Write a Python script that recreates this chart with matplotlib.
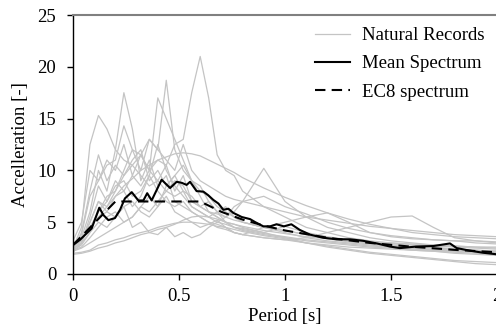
import numpy as np
import matplotlib
matplotlib.use("Agg")
import matplotlib.pyplot as plt

# periods shared by the natural records, s
T = [0, 0.04, 0.08, 0.12, 0.16, 0.2, 0.24, 0.28, 0.32, 0.36, 0.4, 0.44, 0.48,
     0.52, 0.56, 0.6, 0.64, 0.68, 0.72, 0.76, 0.8, 0.9, 1.0, 1.1, 1.2, 1.3,
     1.4, 1.5, 1.6, 1.7, 1.8, 1.9, 2.0]

# natural records (spectral acceleration)
rec1 = [2.8, 3.5, 4.5, 5.5, 6.0, 7.5, 8.0, 9.5, 8.5, 10.0, 11.0, 10.5, 12.5,
        13.0, 17.5, 21.0, 17.0, 11.5, 10.0, 9.5, 8.0, 6.5, 5.5, 4.5, 4.0, 3.5,
        3.2, 3.0, 2.8, 2.6, 2.4, 2.3, 2.2]
rec2 = [2.5, 4.5, 12.5, 15.3, 14.0, 12.0, 11.0, 10.5, 9.5, 8.5, 9.0, 8.0, 7.5,
        8.0, 6.5, 6.0, 5.5, 5.0, 4.8, 4.5, 4.2, 3.8, 3.5, 3.2, 3.0, 2.8,
        2.6, 2.5, 2.3, 2.2, 2.0, 1.9, 1.8]
rec3 = [3.0, 3.5, 6.0, 10.0, 8.0, 12.0, 17.5, 14.0, 9.0, 11.0, 8.5, 9.5, 7.0,
        6.5, 6.0, 5.5, 5.0, 4.8, 4.5, 4.0, 3.8, 3.5, 3.3, 3.0, 2.8, 2.6,
        2.5, 2.4, 2.3, 2.2, 2.1, 2.0, 1.9]
rec4 = [2.6, 3.2, 5.0, 7.0, 6.5, 8.0, 10.0, 12.0, 10.0, 13.0, 12.0, 18.7, 12.0,
        10.0, 9.0, 8.5, 7.0, 6.0, 6.5, 5.5, 5.0, 4.5, 4.0, 3.5, 3.2, 3.0,
        2.8, 2.6, 2.4, 2.3, 2.2, 2.1, 2.0]
rec5 = [2.7, 3.8, 7.5, 9.0, 10.5, 11.0, 14.3, 12.0, 11.5, 10.0, 17.0, 15.0, 13.0,
        11.0, 9.0, 8.0, 7.5, 6.5, 6.0, 5.5, 5.0, 4.5, 4.2, 3.8, 3.4, 3.1,
        2.9, 2.7, 2.5, 2.3, 2.2, 2.1, 2.0]
rec6 = [2.9, 3.5, 4.5, 5.5, 6.5, 7.5, 8.5, 9.2, 10.0, 10.5, 11.0, 11.3, 11.6,
        11.7, 11.6, 11.4, 11.0, 10.6, 10.2, 9.8, 9.3, 8.3, 7.4, 6.6, 5.9, 5.3,
        4.8, 4.4, 4.0, 3.8, 3.6, 3.5, 3.4]
rec7 = [2.2, 2.5, 3.0, 3.5, 4.0, 4.5, 5.0, 5.5, 6.5, 6.0, 7.0, 8.0, 9.0,
        8.5, 7.0, 6.5, 7.0, 6.0, 5.5, 6.0, 7.0, 10.2, 7.0, 5.5, 4.5, 4.0,
        3.5, 3.2, 3.0, 2.8, 2.7, 2.6, 2.5]
rec8 = [2.4, 3.0, 4.0, 6.0, 7.0, 8.5, 9.0, 7.5, 8.0, 9.5, 8.0, 7.0, 6.5,
        7.0, 6.0, 5.5, 5.0, 4.5, 4.3, 4.0, 3.8, 3.5, 3.3, 3.5, 4.0, 4.5,
        5.0, 5.5, 5.6, 4.5, 3.5, 3.2, 3.0]
rec9 = [2.3, 2.8, 4.0, 5.0, 4.5, 5.5, 6.5, 7.0, 6.0, 5.5, 6.5, 7.5, 6.0,
        5.5, 5.0, 4.5, 4.8, 5.2, 4.5, 4.0, 3.8, 4.5, 5.0, 5.5, 5.9, 5.0,
        4.0, 3.6, 3.4, 3.3, 3.2, 3.2, 3.1]
rec10 = [2.0, 2.1, 2.3, 2.8, 3.0, 3.3, 3.5, 3.8, 4.0, 4.2, 4.5, 4.7, 4.9,
         5.0, 5.0, 4.9, 4.8, 4.6, 4.5, 4.3, 4.1, 3.7, 3.4, 3.0, 2.7, 2.4,
         2.1, 1.9, 1.7, 1.5, 1.3, 1.2, 1.1]
rec11 = [1.9, 2.0, 2.2, 2.5, 2.7, 3.0, 3.2, 3.5, 3.8, 4.0, 4.3, 4.5, 4.8,
         5.2, 5.5, 5.6, 5.5, 5.3, 5.0, 4.8, 4.5, 4.0, 3.5, 3.0, 2.6, 2.3,
         2.0, 1.8, 1.6, 1.4, 1.2, 1.0, 0.9]
rec12 = [3.2, 5.0, 10.0, 9.0, 11.0, 10.0, 12.5, 9.5, 11.5, 10.0, 9.0, 10.5, 8.0,
         9.5, 7.0, 6.5, 6.0, 5.5, 5.0, 4.5, 4.3, 3.9, 3.6, 3.3, 3.1, 2.9,
         2.7, 2.6, 2.5, 2.4, 2.3, 2.2, 2.1]
rec13 = [2.5, 3.0, 5.0, 7.0, 6.0, 5.5, 6.5, 4.5, 5.0, 4.0, 3.8, 4.5, 3.6,
         4.0, 3.5, 3.8, 4.5, 5.0, 5.5, 6.5, 7.0, 7.5, 6.5, 5.8, 5.0, 4.4,
         4.0, 3.7, 3.5, 3.3, 3.2, 3.0, 2.9]
rec14 = [2.6, 3.2, 4.5, 6.0, 7.5, 8.0, 9.5, 10.5, 11.5, 13.0, 12.0, 11.0, 10.0,
         12.5, 10.0, 9.0, 8.5, 8.0, 7.5, 7.2, 7.0, 6.5, 6.0, 5.5, 5.2, 4.9,
         4.6, 4.4, 4.2, 4.0, 3.8, 3.7, 3.6]
rec15 = [2.4, 4.0, 8.0, 11.5, 9.0, 10.5, 9.5, 11.0, 12.0, 9.0, 10.0, 8.5, 9.5,
         8.0, 7.5, 6.5, 6.0, 5.8, 5.5, 5.2, 5.0, 4.5, 4.2, 3.8, 3.5, 3.2,
         3.0, 2.9, 2.8, 2.7, 2.6, 2.5, 2.4]
rec16 = [2.1, 3.0, 5.5, 8.5, 7.0, 9.0, 8.0, 6.5, 7.5, 9.5, 12.5, 10.0, 8.5,
         7.5, 6.5, 6.0, 5.5, 6.0, 5.0, 4.5, 4.4, 4.0, 4.6, 4.0, 3.6, 3.3,
         3.0, 2.8, 2.6, 2.5, 2.4, 2.3, 2.2]
rec17 = [2.3, 2.6, 3.5, 4.5, 5.5, 6.0, 5.0, 5.5, 6.5, 7.5, 6.5, 8.5, 9.5,
         10.5, 9.0, 7.5, 6.0, 5.5, 5.0, 4.8, 4.6, 4.2, 3.9, 3.6, 3.4, 3.2,
         3.1, 3.0, 2.9, 2.8, 2.7, 2.6, 2.6]
records = [rec1, rec2, rec3, rec4, rec5, rec6, rec7, rec8, rec9, rec10,
           rec11, rec12, rec13, rec14, rec15, rec16, rec17]

# mean spectrum
mean_T = [0, 0.033, 0.088, 0.124, 0.143, 0.167, 0.198, 0.222, 0.245, 0.277,
          0.308, 0.332, 0.35, 0.371, 0.418, 0.458, 0.489, 0.513, 0.536, 0.552,
          0.583, 0.615, 0.638, 0.662, 0.686, 0.709, 0.733, 0.756, 0.796, 0.835,
          0.86, 0.898, 0.93, 0.96, 0.995, 1.03, 1.07, 1.118, 1.18, 1.244,
          1.307, 1.37, 1.433, 1.495, 1.542, 1.62, 1.7, 1.778, 1.81, 1.873,
          1.935, 2.0]
mean_A = [2.8, 3.3, 4.4, 6.4, 5.7, 5.2, 5.4, 6.2, 7.3, 7.9,
          7.1, 7.1, 7.8, 7.1, 9.1, 8.3, 8.9, 8.8, 8.6, 8.9,
          8.0, 7.95, 7.6, 7.15, 6.8, 6.2, 6.3, 5.9, 5.5, 5.3,
          5.0, 4.6, 4.6, 4.8, 4.6, 4.8, 4.25, 3.8, 3.5, 3.35,
          3.35, 3.2, 2.95, 2.65, 2.5, 2.65, 2.7, 2.95, 2.5, 2.25,
          2.05, 1.9]

# EC8 spectrum
ec8_T = [0, 0.2, 0.6, 0.7, 0.8, 0.9, 1.0, 1.2, 1.4, 1.6, 1.8, 2.0]
ec8_A = [2.8, 7.0, 7.0, 6.0, 5.25, 4.67, 4.2, 3.5, 3.0, 2.63, 2.33, 2.1]

plt.rcParams['font.family'] = ['Liberation Serif', 'DejaVu Serif']
plt.rcParams['font.size'] = 13.5

fig = plt.figure(figsize=(4.96, 3.31), dpi=100)
ax = fig.add_axes([73 / 496, 57 / 331, 424 / 496, 259 / 331])

for i, r in enumerate(records):
    ax.plot(T, r, color='#c4c4c4', linewidth=0.9,
            label='Natural Records' if i == 0 else None)
ax.plot(mean_T, mean_A, color='black', linewidth=1.5, label='Mean Spectrum')
ax.plot(ec8_T, ec8_A, color='black', linewidth=1.5, linestyle=(0, (5, 3)),
        label='EC8 spectrum')

ax.set_xlim(0, 2)
ax.set_ylim(0, 25)
ax.set_xticks([0, 0.5, 1, 1.5, 2])
ax.set_xticklabels(['0', '0.5', '1', '1.5', '2'])
ax.set_yticks([0, 5, 10, 15, 20, 25])
ax.tick_params(direction='out', length=4, width=1, color='black')
ax.tick_params(axis='x', pad=6)
ax.tick_params(axis='y', pad=8)
ax.spines['right'].set_visible(False)
ax.spines['top'].set_color('#808080')
ax.spines['top'].set_linewidth(1.5)
ax.spines['left'].set_linewidth(1.0)
ax.spines['bottom'].set_linewidth(1.0)

ax.set_xlabel('Period [s]', labelpad=2)
ax.set_ylabel('Accelleration [-]', labelpad=6)

ax.legend(loc='upper right', bbox_to_anchor=(484 / 496, 1 - 27 / 331),
          bbox_transform=fig.transFigure, frameon=False,
          handlelength=1.9, handletextpad=0.6, labelspacing=0.6,
          borderaxespad=0, borderpad=0)

fig.savefig('out.png', dpi=100)
